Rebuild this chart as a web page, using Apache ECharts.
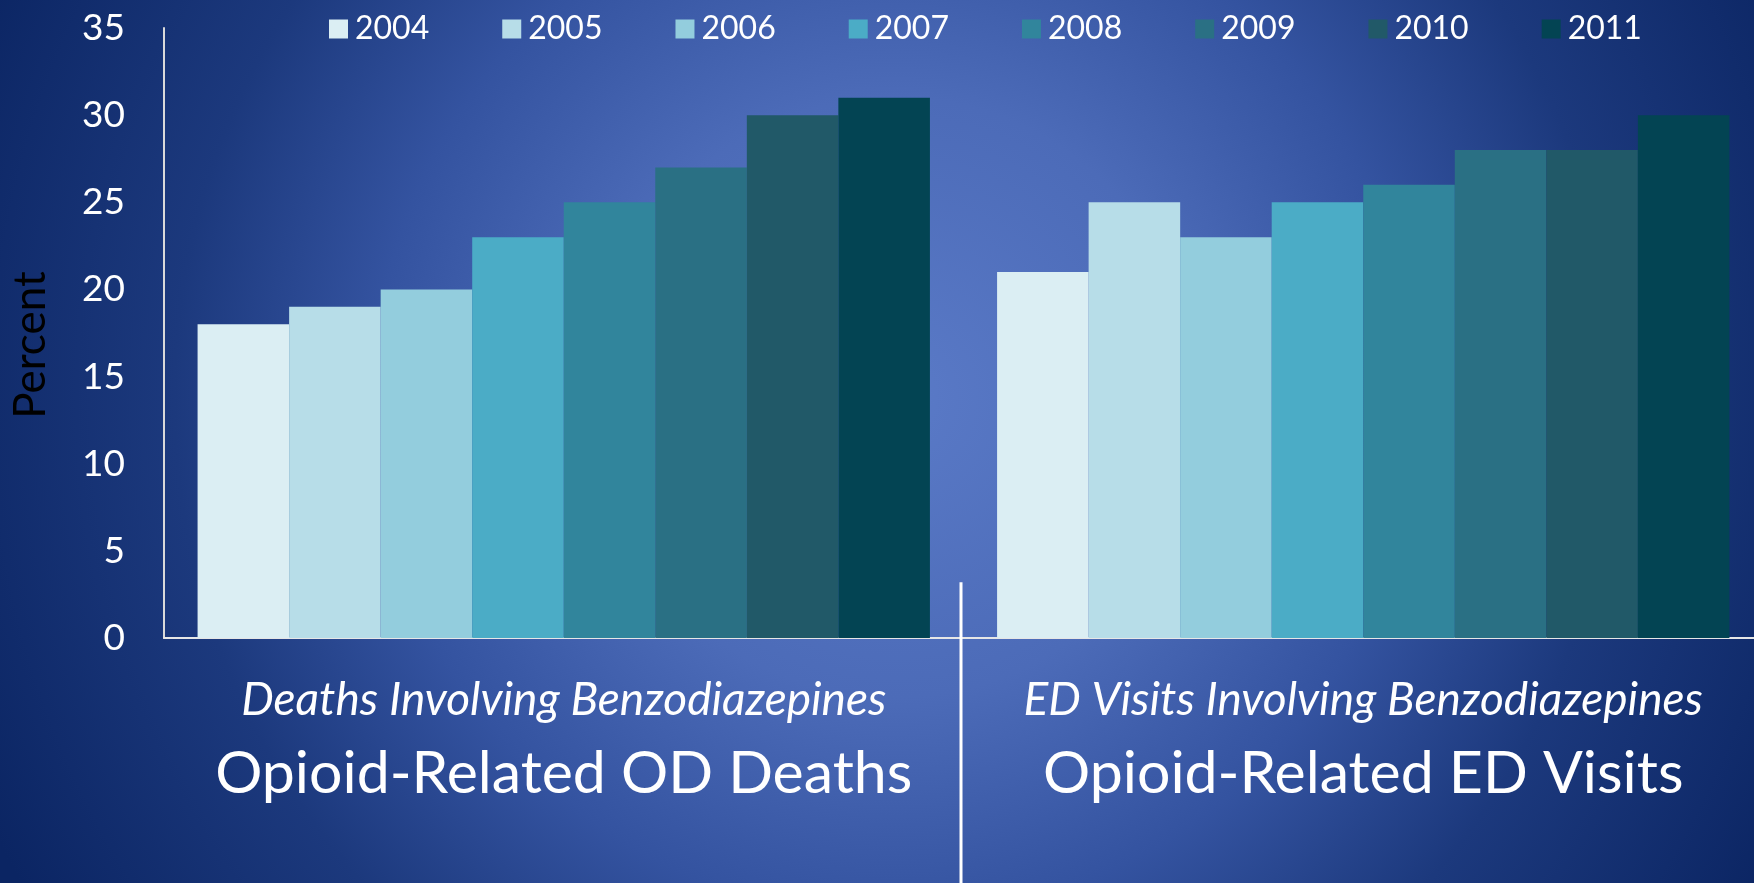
<!DOCTYPE html>
<html>
<head>
<meta charset="utf-8">
<script src="https://cdn.jsdelivr.net/npm/echarts@6/dist/echarts.min.js"></script>
<style>
  html, body { margin: 0; padding: 0; }
  #main {
    width: 1754px; height: 883px;
    background: radial-gradient(circle at 51% 45%, #5a7ac7 0px, #4c6bb8 300px, #3453a0 520px, #1c397d 720px, #0b2563 1000px);
  }
</style>
</head>
<body>
<div id="main"></div>
<script>
// 数据
const categories = ['Opioid-Related OD Deaths', 'Opioid-Related ED Visits'];
const subtitles = ['Deaths Involving Benzodiazepines', 'ED Visits Involving Benzodiazepines'];
const years = ['2004', '2005', '2006', '2007', '2008', '2009', '2010', '2011'];
const deaths = [18, 19, 20, 23, 25, 27, 30, 31];
const edVisits = [21, 25, 23, 25, 26, 28, 28, 30];
const colors = ['#dbeef3', '#b7dde8', '#93cddd', '#4bacc6', '#31859c', '#2a7084', '#215968', '#034453'];

const font = 'Lato';

var chart = echarts.init(document.getElementById('main'));

const series = years.map((y, i) => ({
  name: y,
  type: 'bar',
  data: [deaths[i], edVisits[i]],
  barGap: '0%',
  barCategoryGap: '8.4%',
  itemStyle: { color: colors[i] }
}));

chart.setOption({
  backgroundColor: 'transparent',
  animation: false,
  color: colors,
  legend: {
    data: years,
    left: 324,
    top: 8,
    icon: 'rect',
    itemWidth: 19,
    itemHeight: 19,
    itemGap: 73,
    textStyle: { color: '#ffffff', fontSize: 32, fontFamily: font, padding: [0, 0, 0, 2] }
  },
  grid: { left: 164, top: 28, width: 1599, height: 610, outerBoundsMode: 'none' },
  xAxis: {
    type: 'category',
    data: categories,
    axisLine: { lineStyle: { color: '#e6e6e6', width: 2 } },
    axisTick: { show: false },
    axisLabel: {
      margin: 30,
      interval: 0,
      formatter: (val, idx) => '{a|' + subtitles[idx] + '}\n{b|' + val + '}',
      rich: {
        a: { color: '#ffffff', fontSize: 46, fontStyle: 'italic', fontFamily: font, lineHeight: 64 },
        b: { color: '#ffffff', fontSize: 59, fontFamily: font, lineHeight: 84 }
      }
    }
  },
  yAxis: {
    type: 'value',
    min: 0,
    max: 35,
    interval: 5,
    name: 'Percent',
    nameLocation: 'middle',
    nameGap: 111,
    nameTextStyle: { color: '#000000', fontSize: 44, fontFamily: font, padding: [0, 24, 0, 0] },
    axisLine: { show: true, lineStyle: { color: '#d9d9d9', width: 2 } },
    axisTick: { show: false },
    splitLine: { show: false },
    axisLabel: { color: '#ffffff', fontSize: 37, fontFamily: font, margin: 39 }
  },
  series: series
});

// 两组之间的分隔线
const xa = chart.convertToPixel({ xAxisIndex: 0 }, categories[0]);
const xb = chart.convertToPixel({ xAxisIndex: 0 }, categories[1]);
const divX = Math.round((xa + xb) / 2) - 3;
const divTop = chart.convertToPixel({ yAxisIndex: 0 }, 3.2);
chart.setOption({
  graphic: [{
    type: 'line',
    shape: { x1: divX, y1: divTop, x2: divX, y2: chart.getHeight() },
    style: { stroke: '#ffffff', lineWidth: 3 },
    z: 10
  }]
});
</script>
</body>
</html>
